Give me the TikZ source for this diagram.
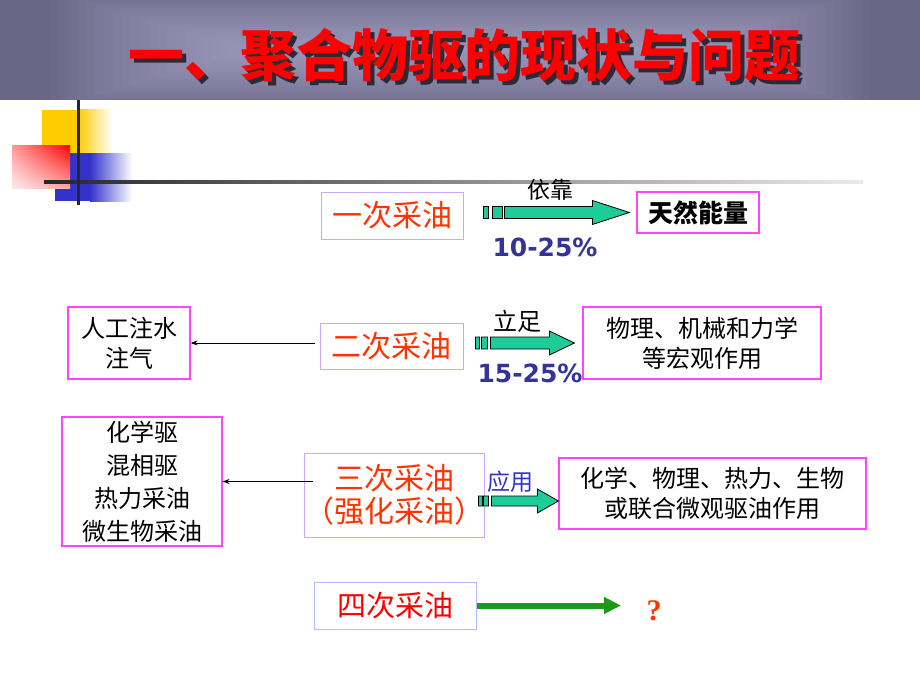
\documentclass[tikz,border=0pt]{standalone}
\usepackage{fontspec}
\setmainfont{Noto Sans CJK SC}
\newfontfamily\numfont{DejaVu Sans}
\newfontfamily\qfont{Liberation Serif}
\usetikzlibrary{arrows.meta,calc,shadings}
\definecolor{bandc}{HTML}{6A6686}
\definecolor{bandlight}{HTML}{BCBCE0}
\definecolor{shadowc}{HTML}{2A2A38}
\definecolor{titlered}{HTML}{FF0000}
\definecolor{yel}{HTML}{FFCC00}
\definecolor{blu}{HTML}{3333CC}
\definecolor{lav}{HTML}{CCA8F8}
\definecolor{lavblue}{HTML}{B4B8FF}
\definecolor{mag}{HTML}{FF44FF}
\definecolor{orred}{HTML}{FF3300}
\definecolor{pctblue}{HTML}{333399}
\definecolor{yyblue}{HTML}{3333CC}
\definecolor{teal}{HTML}{1ECC99}
\definecolor{garrow}{HTML}{1A9A1A}
\begin{document}
\begin{tikzpicture}[x=1pt,y=-1pt,
  lavbox/.style={draw=lav, line width=1pt, inner sep=0pt},
  magbox/.style={draw=mag, line width=1.2pt, inner sep=0pt, align=center},
  redtxt/.style={text=orred, font=\fontsize{30}{38}\selectfont},
  blk/.style={font=\fontsize{24}{30}\selectfont},
  pct/.style={text=pctblue, font=\numfont\bfseries\fontsize{25}{30}\selectfont},
  blockarrow/.style={draw=black, line width=0.8pt, fill=teal},
  thinarrow/.style={draw=black, line width=0.8pt, -{Stealth[length=7pt,width=5pt]}},
  greenarrow/.style={draw=garrow, line width=6pt, -{Triangle[length=17pt,width=16pt]}}
]
\useasboundingbox (0,0) rectangle (920,690);
\fill[white] (0,0) rectangle (920,690);
% header band
\fill[bandc] (0,0) rectangle (920,100);
\begin{scope}
  \clip (0,0) rectangle (920,100);
  \foreach \i in {0,...,24}
    \fill[bandlight, opacity=0.045] (50+\i*9, -8+\i*2.6) rectangle (870-\i*9, 108-\i*2.6);
\end{scope}
\node[text=shadowc, font=\bfseries\fontsize{56}{60}\selectfont] (titleshadow) at (468,59) {一、聚合物驱的现状与问题};
\node[text=titlered, font=\bfseries\fontsize{56}{60}\selectfont] (title) at (464,55) {一、聚合物驱的现状与问题};
% decoration squares
\fill[yel] (42,110) rectangle (78,175);
\shade[left color=yel, right color=white] (78,110) rectangle (112,175);
\fill[blu] (55,153) rectangle (90,201);
\shade[left color=blu, right color=white] (90,153) rectangle (132,201);
\shade[upper left=red!40!white, upper right=red, lower left=red!8!white, lower right=red!35!white] (12,145) rectangle (70,188);
\shade[left color=black!85, right color=black!8] (44,180) rectangle (863,183);
\fill[black!85] (76.5,100) rectangle (79.5,205);
% row 1
\node[lavbox, minimum width=142pt, minimum height=47pt, redtxt] (yici) at (392,215.5) {一次采油};
\node[magbox, minimum width=122pt, minimum height=41pt, font=\bfseries\fontsize{25}{30}\selectfont] (tianran) at (698,212.5) {天然能量};
\node[blk, font=\fontsize{23}{28}\selectfont] (yikao) at (550,190) {依靠};
\node[pct] (p1) at (545,247) {10-25\%};
\draw[blockarrow] let \p1=(yici.east), \p2=(tianran.west) in
  (\x1+20pt,\y2-6pt) rectangle (\x1+25pt,\y2+6pt)
  (\x1+29pt,\y2-6pt) rectangle (\x1+39pt,\y2+6pt)
  (\x1+41pt,\y2-6pt) -- (\x2-44pt,\y2-6pt) -- (\x2-44pt,\y2-12pt) -- (\x2-7pt,\y2)
  -- (\x2-44pt,\y2+12pt) -- (\x2-44pt,\y2+6pt) -- (\x1+41pt,\y2+6pt) -- cycle;
% row 2
\node[magbox, minimum width=122pt, minimum height=72pt, blk] (renggong) at (129,343) {人工注水\\注气};
\node[lavbox, minimum width=143pt, minimum height=46pt, redtxt] (erci) at (391.5,346) {二次采油};
\node[magbox, minimum width=238pt, minimum height=72pt, blk] (wuli) at (702,343) {物理、机械和力学\\等宏观作用};
\node[blk] (lizu) at (517,321) {立足};
\node[pct] (p2) at (530,373) {15-25\%};
\draw[thinarrow] ([xshift=-5pt]erci.west |- renggong.east) -- (renggong.east);
\draw[blockarrow] let \p1=(erci.east), \p2=(wuli.west) in
  (\x1+12pt,\y2-6pt) rectangle (\x1+16pt,\y2+6pt)
  (\x1+18pt,\y2-6pt) rectangle (\x1+24pt,\y2+6pt)
  (\x1+27pt,\y2-6pt) -- (\x2-33pt,\y2-6pt) -- (\x2-33pt,\y2-12pt) -- (\x2-8pt,\y2)
  -- (\x2-33pt,\y2+12pt) -- (\x2-33pt,\y2+6pt) -- (\x1+27pt,\y2+6pt) -- cycle;
% row 3
\node[magbox, minimum width=160pt, minimum height=129pt, font=\fontsize{24}{33}\selectfont] (qudong) at (142,481.5) {化学驱\\混相驱\\热力采油\\微生物采油};
\node[lavbox, minimum width=174pt, minimum height=84pt, redtxt, align=center, font=\fontsize{30}{33}\selectfont] (sanci) at (394,495) {三次采油\\（强化采油）};
\node[magbox, minimum width=307pt, minimum height=71pt, blk, font=\fontsize{24}{30}\selectfont] (weiguan) at (712.5,493.5) {化学、物理、热力、生物\\或联合微观驱油作用};
\node[text=yyblue, font=\fontsize{23}{28}\selectfont] (yingyong) at (510,482) {应用};
\draw[thinarrow] ([xshift=9pt]sanci.west |- qudong.east) -- (qudong.east);
\draw[blockarrow] let \p1=(sanci.east), \p2=(weiguan.west) in
  (\x1-6pt,\y1-11pt) rectangle (\x1-2pt,\y1-1pt)
  (\x1-1pt,\y1-11pt) rectangle (\x1+4pt,\y1-1pt)
  (\x1+7pt,\y1-11pt) -- (\x2-21pt,\y1-11pt) -- (\x2-21pt,\y1-18pt) -- (\x2,\y1-6pt)
  -- (\x2-21pt,\y1+6pt) -- (\x2-21pt,\y1-1pt) -- (\x1+7pt,\y1-1pt) -- cycle;
% row 4
\node[draw=lavblue, line width=1pt, inner sep=0pt, minimum width=162pt, minimum height=47pt, text=red, font=\fontsize{29}{34}\selectfont] (sici) at (395,605.5) {四次采油};
\coordinate (qtip) at (621,605.5);
\draw[greenarrow] (sici.east) -- (qtip);
\node[text=orred, font=\qfont\bfseries\fontsize{30}{32}\selectfont] (qmark) at (654,611) {?};
\end{tikzpicture}
\end{document}
